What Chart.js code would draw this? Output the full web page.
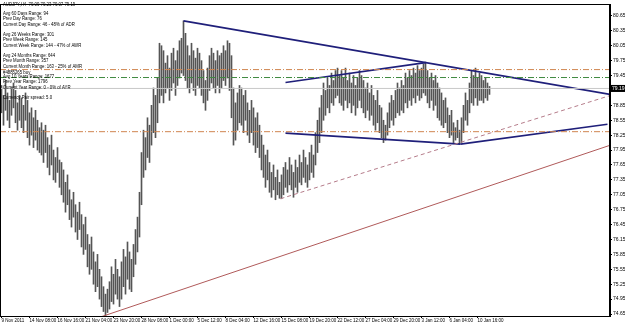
<!DOCTYPE html>
<html>
<head>
<meta charset="utf-8">
<script src="https://cdn.jsdelivr.net/npm/chart.js@4.4.1/dist/chart.umd.min.js"></script>
<style>
  html, body { margin: 0; padding: 0; background: #fff; }
</style>
</head>
<body>
<canvas id="chart" width="625" height="326"></canvas>
<script>
// =============================
// DATA (AUDJPY H4)
// =============================
const highs = [
  79.25, 79.05, 79.35, 79.10, 78.95, 79.20, 79.30, 79.15, 78.90, 79.05,
  79.00, 78.85, 79.10, 78.95, 78.70, 78.80, 78.60, 78.75, 78.55, 78.40,
  78.50, 78.35, 78.45, 78.20, 78.05, 78.25, 77.95, 77.80, 78.00, 77.75,
  77.70, 77.55, 77.30, 77.45, 77.15, 76.95, 77.10, 76.85, 76.70, 76.90,
  76.65, 76.45, 76.60, 76.25, 76.05, 76.20, 75.90, 75.70, 75.85, 75.55,
  75.40, 75.20, 75.05, 75.15, 75.30, 75.60, 75.45, 75.75, 75.55, 75.40,
  75.70, 75.95, 75.80, 76.10, 75.90, 75.75, 76.05, 76.35, 76.60, 77.10,
  77.90, 78.35, 78.20, 78.60, 78.45, 78.85, 79.20, 79.05, 79.40, 80.10,
  80.05, 79.95, 79.70, 79.85, 79.60, 79.90, 80.00, 79.75, 79.95, 80.15,
  80.20, 80.55, 80.30, 80.05, 79.85, 80.10, 79.95, 79.80, 80.00, 79.90,
  79.75, 79.55, 79.35, 79.60, 79.85, 80.00, 79.90, 79.75, 79.95, 79.85,
  79.90, 80.05, 79.95, 80.15, 80.10, 79.85, 79.20, 78.90, 79.10, 79.25,
  79.20, 79.05, 79.15, 78.90, 78.75, 78.95, 78.80, 78.60, 78.70, 78.45,
  78.25, 78.05, 77.85, 77.95, 77.70, 77.50, 77.65, 77.40, 77.55, 77.30,
  77.45, 77.60, 77.70, 77.55, 77.80, 77.65, 77.50, 77.75, 77.60, 77.85,
  77.70, 77.95, 77.80, 77.65, 77.90, 78.05, 77.85, 78.30, 78.55, 78.80,
  79.05, 79.30, 79.15, 79.40, 79.25, 79.50, 79.35, 79.55, 79.60, 79.45,
  79.55, 79.40, 79.60, 79.35, 79.50, 79.30, 79.45, 79.25, 79.40, 79.55,
  79.45, 79.35, 79.20, 79.30, 79.10, 79.25, 79.05, 78.95, 79.15, 78.85,
  78.80, 78.55, 78.45, 78.70, 78.90, 79.05, 78.95, 79.15, 79.30, 79.20,
  79.35, 79.25, 79.50, 79.40, 79.55, 79.45, 79.60, 79.50, 79.65, 79.55,
  79.60, 79.68, 79.72, 79.55, 79.40, 79.50, 79.35, 79.45, 79.30, 79.20,
  79.10, 78.95, 79.00, 78.80, 78.65, 78.75, 78.50, 78.40, 78.55, 78.35,
  78.60, 78.85, 79.10, 78.95, 79.30, 79.55, 79.45, 79.60, 79.40, 79.50,
  79.45, 79.35, 79.40, 79.30, 79.23
];
const lows = [
  78.70, 78.45, 78.75, 78.55, 78.40, 78.65, 78.80, 78.50, 78.35, 78.55,
  78.40, 78.30, 78.55, 78.20, 78.05, 78.25, 78.00, 78.15, 77.95, 77.90,
  77.85, 77.70, 77.90, 77.60, 77.45, 77.65, 77.35, 77.30, 77.50, 77.20,
  77.05, 76.90, 76.70, 76.85, 76.55, 76.40, 76.60, 76.30, 76.15, 76.35,
  76.00, 75.85, 75.95, 75.60, 75.45, 75.55, 75.25, 75.10, 75.20, 74.95,
  74.80, 74.70, 74.62, 74.68, 74.75, 74.90, 74.85, 75.05, 74.95, 74.80,
  74.95, 75.20, 75.05, 75.35, 75.15, 75.10, 75.40, 75.65, 75.90, 76.20,
  76.85, 77.40, 77.55, 77.80, 77.70, 78.05, 78.30, 78.20, 78.50, 78.90,
  79.05, 78.90, 79.10, 79.20, 78.95, 79.15, 79.30, 79.05, 79.25, 79.40,
  79.50, 79.45, 79.35, 79.20, 79.10, 79.30, 79.15, 79.05, 79.25, 79.20,
  79.05, 78.90, 78.75, 78.95, 79.15, 79.30, 79.20, 79.10, 79.25, 79.10,
  79.20, 79.35, 79.25, 79.40, 79.15, 78.60, 78.05, 78.15, 78.35, 78.50,
  78.45, 78.30, 78.55, 78.25, 78.10, 78.30, 78.05, 77.90, 78.00, 77.80,
  77.55, 77.40, 77.20, 77.35, 77.10, 77.00, 77.15, 76.95, 77.05, 76.98,
  76.97, 77.05, 77.20, 77.10, 77.25, 77.15, 77.00, 77.20, 77.10, 77.30,
  77.25, 77.40, 77.30, 77.20, 77.35, 77.50, 77.40, 77.65, 77.90, 78.10,
  78.30, 78.55, 78.65, 78.80, 78.70, 78.90, 78.85, 79.00, 79.05, 78.90,
  78.85, 78.75, 78.95, 78.80, 78.90, 78.70, 78.85, 78.65, 78.80, 78.95,
  78.80, 78.70, 78.60, 78.75, 78.55, 78.65, 78.45, 78.35, 78.50, 78.30,
  78.20, 78.10, 78.15, 78.25, 78.40, 78.55, 78.45, 78.60, 78.70, 78.65,
  78.75, 78.70, 78.90, 78.80, 78.95, 78.85, 79.00, 78.90, 79.05, 78.95,
  79.00, 79.10, 79.05, 78.90, 78.80, 78.95, 78.75, 78.85, 78.60, 78.55,
  78.45, 78.40, 78.50, 78.30, 78.20, 78.25, 78.10, 78.15, 78.20, 78.07,
  78.10, 78.30, 78.55, 78.45, 78.70, 78.90, 78.85, 79.00, 78.85, 78.95,
  78.95, 78.90, 79.00, 78.95, 79.07
];
const lastBar = [79.09, 79.23, 79.07, 79.19]; // O H L C

// bottom axis
const xTickBars = [0, 14, 28, 42, 56, 70, 84, 98, 112, 126, 140, 154, 168, 182, 196, 210, 224, 238];
const xTickLabels = [
  "9 Nov 2011", "14 Nov 08:00", "16 Nov 16:00", "21 Nov 04:00", "23 Nov 20:00",
  "28 Nov 08:00", "1 Dec 00:00", "5 Dec 12:00", "8 Dec 04:00", "12 Dec 16:00",
  "15 Dec 08:00", "19 Dec 20:00", "22 Dec 12:00", "27 Dec 04:00", "29 Dec 20:00",
  "3 Jan 12:00", "6 Jan 04:00", "10 Jan 16:00"
];
// right axis
const yTicks = [74.65, 74.95, 75.25, 75.55, 75.85, 76.15, 76.45, 76.75, 77.05, 77.35,
  77.65, 77.95, 78.25, 78.55, 78.85, 79.45, 79.75, 80.05, 80.35, 80.65];

// trend lines [bar, price] -> [bar, price]
const trendDown = [[91, 80.55], [304.5, 79.07]];
const channelTop = [[142, 79.31], [212, 79.71]];
const channelBottom = [[142, 78.29], [229.5, 78.07]];
const supportRise = [[229.5, 78.07], [303, 78.47]];
const dashedRise = [[139.5, 76.97], [304.5, 79.05]];
const longRise = [[48, 74.57], [304.5, 78.05]];

// horizontal levels
const levelUpper = 79.57;
const levelGreen = 79.41;
const levelLower = 78.32;

const infoLines = [
  "AUDJPY,H4  79.09 79.23 79.07 79.19",
  "Avg 60 Days Range: 94",
  "Prev Day Range: 76",
  "Current Day Range: 46 - 48% of ADR",
  "Avg 26 Weeks Range: 301",
  "Prev Week Range: 145",
  "Current Week Range: 144 - 47% of AWR",
  "Avg 24 Months Range: 644",
  "Prev Month Range: 357",
  "Current Month Range: 163 - 25% of AMR",
  "Avg 10 Years Range: 1677",
  "Prev Year Range: 1796",
  "Current Year Range: 0 - 0% of AYR",
  "Currency Pair spread: 5.0"
];
const levelLabel = "#4885265 buy";

// =============================
// HELPERS
// =============================
const X_MIN = -0.75, X_MAX = 304.25;
const FONT = "Liberation Sans";
const INFO_Y = [4, 13, 18.5, 24, 34.5, 39.8, 45, 55.5, 60.8, 66, 76.5, 81.8, 87, 97.8];

function seg(pts) {
  return pts.map(p => ({ x: p[0], y: p[1] }));
}
function hline(v) {
  return [{ x: X_MIN, y: v }, { x: X_MAX, y: v }];
}
function lineDs(data, color, width, dash) {
  return {
    type: 'line', data: data, borderColor: color, borderWidth: width,
    borderDash: dash || [], pointRadius: 0, fill: false, tension: 0, order: 1
  };
}

// texto de la esquina y etiqueta de precio
const overlayPlugin = {
  id: 'overlay',
  afterDraw(chart) {
    const ctx = chart.ctx;
    const y = chart.scales.y;
    ctx.save();
    ctx.fillStyle = "#000";
    ctx.textBaseline = "middle";
    ctx.textAlign = "left";
    ctx.save();
    ctx.scale(0.77, 1);
    ctx.font = "5.6px '" + FONT + "'";
    infoLines.forEach((t, i) => ctx.fillText(t, 3 / 0.77, INFO_Y[i]));
    ctx.fillText(levelLabel, 3 / 0.77, 72);
    ctx.restore();
    // current price box
    ctx.font = "5px '" + FONT + "'";
    const py = y.getPixelForValue(lastBar[3]);
    ctx.fillStyle = "#000";
    ctx.fillRect(611, py - 3.5, 14, 7);
    ctx.fillStyle = "#fff";
    ctx.fillText(lastBar[3].toFixed(2), 612, py);
    // frame
    const a = chart.chartArea;
    ctx.strokeStyle = "#000";
    ctx.lineWidth = 1;
    ctx.strokeRect(a.left + 0.5, a.top + 0.5, a.right - a.left - 1, a.bottom - a.top);
    ctx.restore();
  }
};

// =============================
// CHART
// =============================
const barData = highs.map((h, i) => ({ x: i, y: [lows[i], h] }));

new Chart(document.getElementById("chart"), {
  data: {
    datasets: [
      lineDs(hline(levelUpper), "#d08650", 1, [6, 2, 1, 2]),
      lineDs(hline(levelGreen), "#3f8a3f", 1, [6, 2, 1, 2]),
      lineDs(hline(lastBar[3]), "#c8c8c8", 1),
      lineDs(hline(levelLower), "#d08650", 1, [6, 2, 1, 2]),
      lineDs(seg(longRise), "#b05a5a", 1),
      lineDs(seg(dashedRise), "#b57c8a", 1, [4, 3]),
      lineDs(seg(trendDown), "#1f1f7a", 1.6),
      lineDs(seg(channelTop), "#1f1f7a", 1.6),
      lineDs(seg(channelBottom), "#1f1f7a", 1.6),
      lineDs(seg(supportRise), "#1f1f7a", 1.6),
      {
        type: 'bar', data: barData, backgroundColor: "#555555",
        barThickness: 1, borderWidth: 0, order: 2
      }
    ]
  },
  options: {
    responsive: false,
    animation: false,
    layout: { padding: { top: 1, left: 0, right: 0, bottom: 0 } },
    plugins: { legend: { display: false }, tooltip: { enabled: false } },
    scales: {
      x: {
        type: 'linear', min: X_MIN, max: X_MAX, offset: false,
        grid: { drawOnChartArea: false, drawTicks: true, tickLength: 2, color: "#000", offset: false },
        border: { display: true, color: "#000" },
        afterBuildTicks(s) { s.ticks = xTickBars.map(v => ({ value: v })); },
        afterFit(s) { s.height = 10; },
        ticks: {
          autoSkip: false, maxRotation: 0, align: 'start', padding: 0,
          color: "#000", font: { family: FONT, size: 4.5 },
          callback: (v) => xTickLabels[xTickBars.indexOf(v)]
        }
      },
      y: {
        type: 'linear', position: 'right', min: 74.61, max: 80.89,
        grid: { drawOnChartArea: false, drawTicks: true, tickLength: 2, color: "#000" },
        border: { display: true, color: "#000" },
        afterBuildTicks(s) { s.ticks = yTicks.map(v => ({ value: v })); },
        afterFit(s) { s.width = 15; },
        ticks: {
          padding: 1, color: "#000", font: { family: FONT, size: 5 },
          callback: (v) => v.toFixed(2)
        }
      }
    }
  },
  plugins: [overlayPlugin]
});
</script>
</body>
</html>
